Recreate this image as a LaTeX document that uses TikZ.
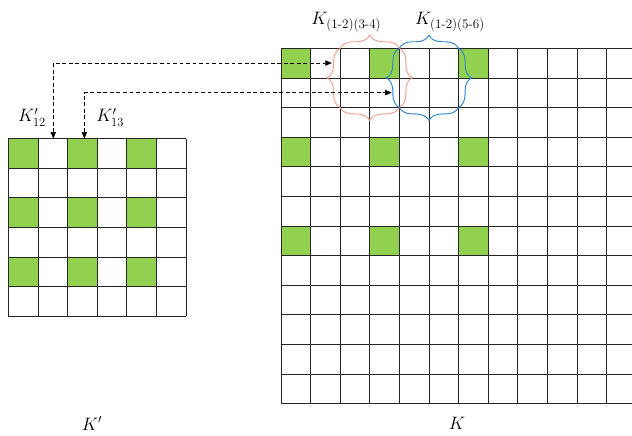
\documentclass[tikz,border=0pt]{standalone}
\usepackage{amsmath}
\usepackage{tikz}
\usetikzlibrary{arrows.meta,decorations.pathreplacing}
\definecolor{cellgreen}{HTML}{92D050}
\definecolor{bracered}{HTML}{F4A090}
\definecolor{braceblue}{HTML}{2E86D0}

\begin{document}
\begin{tikzpicture}[>={Triangle[length=2.2mm,width=1.8mm]},
  gridline/.style={draw=black!85,line width=0.6pt},
  cell/.style={fill=cellgreen},
  lbl/.style={font=\fontsize{18}{20}\selectfont,inner sep=0pt},
  link/.style={<->,dash pattern=on 1.3mm off 0.9mm,line width=0.6pt},
  brc/.style={decorate,decoration={brace,amplitude=4.4mm},line width=0.9pt}]
\useasboundingbox (0,0) rectangle (21.35,14.7);
\clip (0,0) rectangle (21.35,14.7);
% small matrix K'
\begin{scope}[shift={(0.28,4.02)}]
\foreach \i in {0,2,4} \foreach \j in {0,2,4}
  \fill[cell] (\i,5-\j) rectangle +(1,1);
\draw[gridline] (0,0) grid (6,6);
\coordinate (s12) at (1.52,6);
\coordinate (s13) at (2.57,6);
\node[lbl] (l12) at (0.8,6.72) {$K'_{12}$};
\node[lbl] (l13) at (3.44,6.72) {$K'_{13}$};
\node[lbl] (lsmall) at (2.83,-3.62) {$K'$};
\end{scope}
% big matrix K
\begin{scope}[shift={(9.49,1.07)}]
\foreach \i in {0,3,6} \foreach \j in {0,3,6}
  \fill[cell] (\i,11-\j) rectangle +(1,1);
\draw[gridline] (0,0) grid (12,12);
\coordinate (b12) at (1.72,11.5);
\coordinate (b13) at (3.74,10.5);
% 2x2 blocks framed by braces
\draw[brc,bracered] (2,12) -- (4,12);
\draw[brc,bracered] (4,12) -- (4,10);
\draw[brc,bracered] (4,10) -- (2,10);
\draw[brc,bracered] (2,10) -- (2,12);
\draw[brc,braceblue] (4,12) -- (6,12);
\draw[brc,braceblue] (6,12) -- (6,10);
\draw[brc,braceblue] (6,10) -- (4,10);
\draw[brc,braceblue] (4,10) -- (4,12);
\node[lbl] (l34) at (2.21,12.88) {$K_{\text{(1-2)(3-4)}}$};
\node[lbl] (l56) at (5.71,12.88) {$K_{\text{(1-2)(5-6)}}$};
\node[lbl] (lbig) at (5.95,-0.67) {$K$};
\end{scope}
\draw[link] (s12) |- (b12);
\draw[link] (s13) |- (b13);
\end{tikzpicture}
\end{document}
